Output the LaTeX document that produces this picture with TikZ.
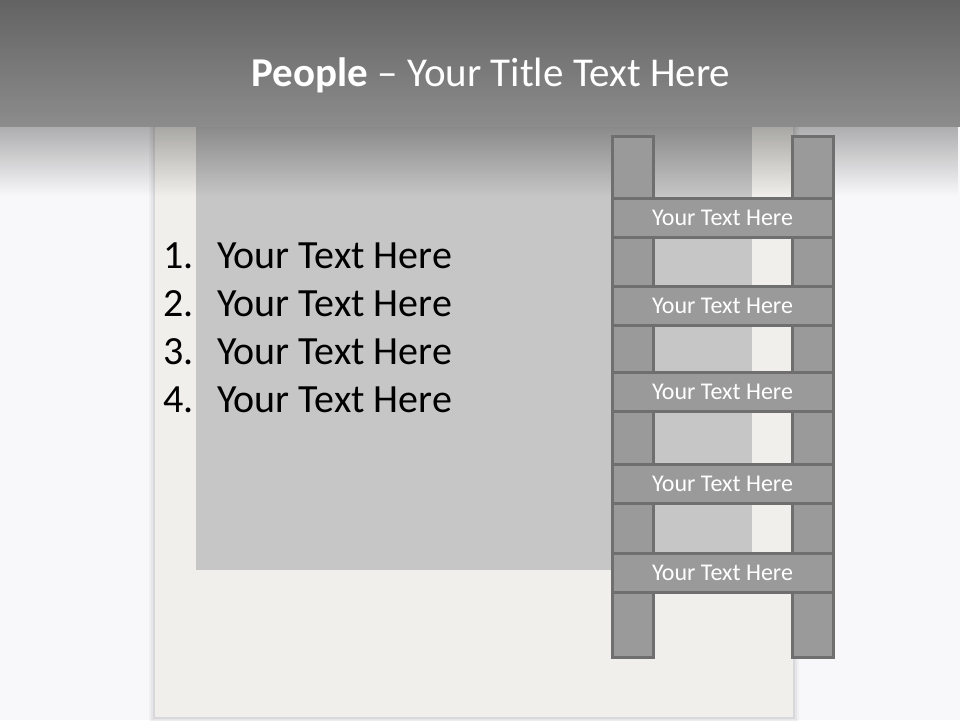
\documentclass[tikz,border=0pt]{standalone}
\usepackage{fontspec}
\setmainfont{Carlito}
\usetikzlibrary{fadings}
\tikzfading[name=fadedown, top color=transparent!0, middle color=transparent!75, bottom color=transparent!100]
\definecolor{hdrtop}{HTML}{636363}
\definecolor{hdrbot}{HTML}{8C8C8C}
\definecolor{bgc}{HTML}{F8F8FA}
\definecolor{paper}{HTML}{F0EFEB}
\definecolor{inner}{HTML}{C6C6C6}
\definecolor{rungfill}{HTML}{9A9A9A}
\definecolor{rungline}{HTML}{6F6F6F}
\tikzset{
  rail/.style={draw=rungline, fill=rungfill, line width=3pt},
  rung/.style={draw=rungline, fill=rungfill, line width=3pt, minimum width=221pt, minimum height=39pt, inner sep=0pt, text=white, font=\fontsize{24}{28}\selectfont},
  listnum/.style={anchor=base west, inner sep=0pt, font=\fontsize{40}{48}\selectfont, text=black},
  listtxt/.style={anchor=base west, inner sep=0pt, font=\fontsize{40}{48}\selectfont, text=black},
}
\begin{document}
\begin{tikzpicture}[x=1pt,y=-1pt]
\useasboundingbox (0,0) rectangle (960,720);
% background
\fill[bgc] (0,0) rectangle (960,720);
% paper shadow
\foreach \d/\o in {6/0.03,4/0.04,2/0.06}{
  \fill[black, opacity=\o] (155-\d,100) rectangle (793+\d,717+\d);
}
% paper
\fill[paper] (155,100) rectangle (793,717);
% inner photo area
\fill[inner] (196,100) rectangle (752,570);
% header fade shadow
\fill[black, opacity=0.3, path fading=fadedown] (0,126) rectangle (960,196);
% header
\shade[top color=hdrtop, bottom color=hdrbot] (0,0) rectangle (960,126);
\node[anchor=base, text=white, inner sep=0pt, font=\fontsize{41}{48}\selectfont] (title) at (491,86) {\textbf{People} – Your Title Text Here};
% list
\node[listnum] (n1) at (163,268) {1.};
\node[listtxt] (t1) at (217,268) {Your Text Here};
\node[listnum] (n2) at (163,316) {2.};
\node[listtxt] (t2) at (217,316) {Your Text Here};
\node[listnum] (n3) at (163,364) {3.};
\node[listtxt] (t3) at (217,364) {Your Text Here};
\node[listnum] (n4) at (163,412) {4.};
\node[listtxt] (t4) at (217,412) {Your Text Here};
% ladder rails
\draw[rail] (612,136) rectangle (653,657);
\draw[rail] (792,136) rectangle (833,657);
% rungs
\node[rung] (r1) at (722.5,217.5) {Your Text Here};
\node[rung] (r2) at (722.5,305.5) {Your Text Here};
\node[rung] (r3) at (722.5,391.5) {Your Text Here};
\node[rung] (r4) at (722.5,483.5) {Your Text Here};
\node[rung] (r5) at (722.5,572.5) {Your Text Here};
\end{tikzpicture}
\end{document}
